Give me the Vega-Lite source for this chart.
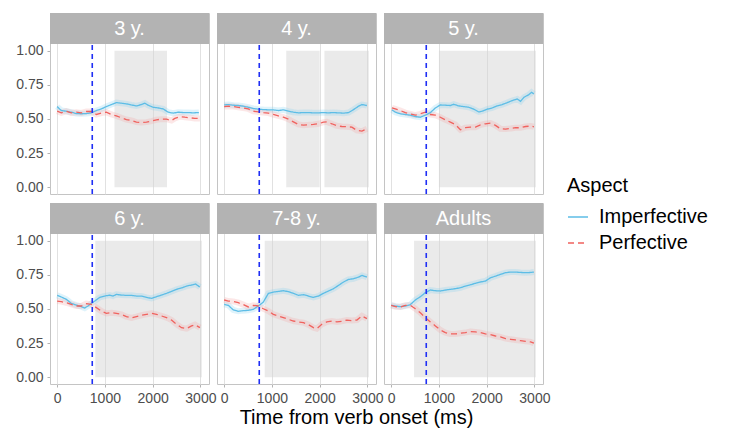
{
  "$schema": "https://vega.github.io/schema/vega-lite/v6.json",
  "padding": {"left": 5, "top": 12, "right": 5, "bottom": 0},
  "background": "white",
  "bounds": "flush",
  "config": {
    "font": "Liberation Sans",
    "view": {"stroke": "#C4C4C4", "strokeWidth": 1},
    "header": {"labels": false, "title": null, "labelFontSize": 0, "labelPadding": 0},
    "headerFacet": {"labels": false, "title": null, "labelFontSize": 0, "labelPadding": 0},
    "axis": {"domain": false, "labelColor": "#4D4D4D", "labelFontSize": 14, "labelFont": "Liberation Sans", "tickColor": "#B3B3B3", "tickSize": 3, "labelPadding": 4},
    "legend": {"titleFontSize": 20, "titleFontWeight": "normal", "titleColor": "black", "labelFontSize": 20, "labelColor": "black", "titleFont": "Liberation Sans", "labelFont": "Liberation Sans", "symbolType": "stroke", "symbolSize": 400, "symbolStrokeWidth": 1.5, "rowPadding": 5, "titlePadding": 10, "labelOffset": 10}
  },
  "title": {"text": "Time from verb onset (ms)", "orient": "bottom", "anchor": "middle", "fontSize": 20, "fontWeight": "normal", "color": "black", "offset": 3, "font": "Liberation Sans"},
  "data": {"values": [
    {"g":"3 y.","k":"on","t":735},{"g":"4 y.","k":"on","t":735},{"g":"5 y.","k":"on","t":735},{"g":"6 y.","k":"on","t":735},{"g":"7-8 y.","k":"on","t":735},{"g":"Adults","k":"on","t":735},
    {"g":"3 y.","t":1200,"t2":2300},{"g":"4 y.","t":1300,"t2":2000},{"g":"4 y.","t":2100,"t2":3030},{"g":"5 y.","t":1000,"t2":3030},{"g":"6 y.","t":800,"t2":3030},{"g":"7-8 y.","t":850,"t2":3030},{"g":"Adults","t":480,"t2":3030},
    {"g":"3 y.","a":"Imperfective","t":0,"p":0.591},{"g":"3 y.","a":"Imperfective","t":87,"p":0.562},{"g":"3 y.","a":"Imperfective","t":192,"p":0.557},{"g":"3 y.","a":"Imperfective","t":296,"p":0.55},{"g":"3 y.","a":"Imperfective","t":401,"p":0.54},{"g":"3 y.","a":"Imperfective","t":506,"p":0.538},{"g":"3 y.","a":"Imperfective","t":611,"p":0.54},{"g":"3 y.","a":"Imperfective","t":716,"p":0.545},{"g":"3 y.","a":"Imperfective","t":821,"p":0.562},{"g":"3 y.","a":"Imperfective","t":926,"p":0.574},{"g":"3 y.","a":"Imperfective","t":1030,"p":0.591},{"g":"3 y.","a":"Imperfective","t":1135,"p":0.606},{"g":"3 y.","a":"Imperfective","t":1240,"p":0.62},{"g":"3 y.","a":"Imperfective","t":1345,"p":0.616},{"g":"3 y.","a":"Imperfective","t":1450,"p":0.611},{"g":"3 y.","a":"Imperfective","t":1555,"p":0.603},{"g":"3 y.","a":"Imperfective","t":1660,"p":0.596},{"g":"3 y.","a":"Imperfective","t":1765,"p":0.606},{"g":"3 y.","a":"Imperfective","t":1835,"p":0.616},{"g":"3 y.","a":"Imperfective","t":1905,"p":0.601},{"g":"3 y.","a":"Imperfective","t":2010,"p":0.586},{"g":"3 y.","a":"Imperfective","t":2115,"p":0.581},{"g":"3 y.","a":"Imperfective","t":2220,"p":0.574},{"g":"3 y.","a":"Imperfective","t":2325,"p":0.55},{"g":"3 y.","a":"Imperfective","t":2430,"p":0.543},{"g":"3 y.","a":"Imperfective","t":2535,"p":0.55},{"g":"3 y.","a":"Imperfective","t":2640,"p":0.547},{"g":"3 y.","a":"Imperfective","t":2745,"p":0.547},{"g":"3 y.","a":"Imperfective","t":2850,"p":0.545},{"g":"3 y.","a":"Imperfective","t":2968,"p":0.547},
    {"g":"3 y.","a":"Perfective","t":0,"p":0.557},{"g":"3 y.","a":"Perfective","t":87,"p":0.545},{"g":"3 y.","a":"Perfective","t":192,"p":0.557},{"g":"3 y.","a":"Perfective","t":296,"p":0.545},{"g":"3 y.","a":"Perfective","t":401,"p":0.55},{"g":"3 y.","a":"Perfective","t":506,"p":0.545},{"g":"3 y.","a":"Perfective","t":611,"p":0.555},{"g":"3 y.","a":"Perfective","t":716,"p":0.555},{"g":"3 y.","a":"Perfective","t":821,"p":0.533},{"g":"3 y.","a":"Perfective","t":926,"p":0.543},{"g":"3 y.","a":"Perfective","t":1030,"p":0.55},{"g":"3 y.","a":"Perfective","t":1135,"p":0.533},{"g":"3 y.","a":"Perfective","t":1240,"p":0.523},{"g":"3 y.","a":"Perfective","t":1345,"p":0.509},{"g":"3 y.","a":"Perfective","t":1450,"p":0.496},{"g":"3 y.","a":"Perfective","t":1555,"p":0.489},{"g":"3 y.","a":"Perfective","t":1660,"p":0.477},{"g":"3 y.","a":"Perfective","t":1765,"p":0.474},{"g":"3 y.","a":"Perfective","t":1870,"p":0.477},{"g":"3 y.","a":"Perfective","t":1975,"p":0.484},{"g":"3 y.","a":"Perfective","t":2080,"p":0.494},{"g":"3 y.","a":"Perfective","t":2185,"p":0.499},{"g":"3 y.","a":"Perfective","t":2290,"p":0.499},{"g":"3 y.","a":"Perfective","t":2395,"p":0.489},{"g":"3 y.","a":"Perfective","t":2465,"p":0.504},{"g":"3 y.","a":"Perfective","t":2570,"p":0.518},{"g":"3 y.","a":"Perfective","t":2675,"p":0.513},{"g":"3 y.","a":"Perfective","t":2780,"p":0.509},{"g":"3 y.","a":"Perfective","t":2885,"p":0.504},{"g":"3 y.","a":"Perfective","t":2990,"p":0.504},
    {"g":"4 y.","a":"Imperfective","t":0,"p":0.603},{"g":"4 y.","a":"Imperfective","t":87,"p":0.606},{"g":"4 y.","a":"Imperfective","t":192,"p":0.601},{"g":"4 y.","a":"Imperfective","t":296,"p":0.599},{"g":"4 y.","a":"Imperfective","t":401,"p":0.594},{"g":"4 y.","a":"Imperfective","t":506,"p":0.586},{"g":"4 y.","a":"Imperfective","t":611,"p":0.577},{"g":"4 y.","a":"Imperfective","t":716,"p":0.572},{"g":"4 y.","a":"Imperfective","t":821,"p":0.569},{"g":"4 y.","a":"Imperfective","t":926,"p":0.567},{"g":"4 y.","a":"Imperfective","t":1030,"p":0.567},{"g":"4 y.","a":"Imperfective","t":1135,"p":0.562},{"g":"4 y.","a":"Imperfective","t":1240,"p":0.567},{"g":"4 y.","a":"Imperfective","t":1345,"p":0.557},{"g":"4 y.","a":"Imperfective","t":1450,"p":0.55},{"g":"4 y.","a":"Imperfective","t":1555,"p":0.545},{"g":"4 y.","a":"Imperfective","t":1660,"p":0.547},{"g":"4 y.","a":"Imperfective","t":1765,"p":0.547},{"g":"4 y.","a":"Imperfective","t":1870,"p":0.545},{"g":"4 y.","a":"Imperfective","t":1975,"p":0.545},{"g":"4 y.","a":"Imperfective","t":2080,"p":0.547},{"g":"4 y.","a":"Imperfective","t":2185,"p":0.545},{"g":"4 y.","a":"Imperfective","t":2290,"p":0.547},{"g":"4 y.","a":"Imperfective","t":2395,"p":0.545},{"g":"4 y.","a":"Imperfective","t":2500,"p":0.543},{"g":"4 y.","a":"Imperfective","t":2605,"p":0.547},{"g":"4 y.","a":"Imperfective","t":2710,"p":0.569},{"g":"4 y.","a":"Imperfective","t":2815,"p":0.594},{"g":"4 y.","a":"Imperfective","t":2885,"p":0.606},{"g":"4 y.","a":"Imperfective","t":2990,"p":0.599},
    {"g":"4 y.","a":"Perfective","t":0,"p":0.591},{"g":"4 y.","a":"Perfective","t":87,"p":0.594},{"g":"4 y.","a":"Perfective","t":192,"p":0.591},{"g":"4 y.","a":"Perfective","t":296,"p":0.586},{"g":"4 y.","a":"Perfective","t":401,"p":0.581},{"g":"4 y.","a":"Perfective","t":506,"p":0.574},{"g":"4 y.","a":"Perfective","t":611,"p":0.557},{"g":"4 y.","a":"Perfective","t":716,"p":0.552},{"g":"4 y.","a":"Perfective","t":821,"p":0.547},{"g":"4 y.","a":"Perfective","t":926,"p":0.543},{"g":"4 y.","a":"Perfective","t":1030,"p":0.533},{"g":"4 y.","a":"Perfective","t":1135,"p":0.523},{"g":"4 y.","a":"Perfective","t":1240,"p":0.513},{"g":"4 y.","a":"Perfective","t":1345,"p":0.499},{"g":"4 y.","a":"Perfective","t":1450,"p":0.479},{"g":"4 y.","a":"Perfective","t":1555,"p":0.46},{"g":"4 y.","a":"Perfective","t":1660,"p":0.455},{"g":"4 y.","a":"Perfective","t":1765,"p":0.457},{"g":"4 y.","a":"Perfective","t":1870,"p":0.46},{"g":"4 y.","a":"Perfective","t":1975,"p":0.465},{"g":"4 y.","a":"Perfective","t":2080,"p":0.477},{"g":"4 y.","a":"Perfective","t":2150,"p":0.479},{"g":"4 y.","a":"Perfective","t":2255,"p":0.465},{"g":"4 y.","a":"Perfective","t":2360,"p":0.45},{"g":"4 y.","a":"Perfective","t":2465,"p":0.445},{"g":"4 y.","a":"Perfective","t":2570,"p":0.443},{"g":"4 y.","a":"Perfective","t":2675,"p":0.44},{"g":"4 y.","a":"Perfective","t":2780,"p":0.416},{"g":"4 y.","a":"Perfective","t":2885,"p":0.411},{"g":"4 y.","a":"Perfective","t":2990,"p":0.428},
    {"g":"5 y.","a":"Imperfective","t":17,"p":0.567},{"g":"5 y.","a":"Imperfective","t":87,"p":0.55},{"g":"5 y.","a":"Imperfective","t":192,"p":0.538},{"g":"5 y.","a":"Imperfective","t":296,"p":0.533},{"g":"5 y.","a":"Imperfective","t":401,"p":0.528},{"g":"5 y.","a":"Imperfective","t":506,"p":0.518},{"g":"5 y.","a":"Imperfective","t":611,"p":0.513},{"g":"5 y.","a":"Imperfective","t":716,"p":0.528},{"g":"5 y.","a":"Imperfective","t":821,"p":0.547},{"g":"5 y.","a":"Imperfective","t":926,"p":0.581},{"g":"5 y.","a":"Imperfective","t":1030,"p":0.603},{"g":"5 y.","a":"Imperfective","t":1135,"p":0.601},{"g":"5 y.","a":"Imperfective","t":1240,"p":0.599},{"g":"5 y.","a":"Imperfective","t":1310,"p":0.608},{"g":"5 y.","a":"Imperfective","t":1415,"p":0.596},{"g":"5 y.","a":"Imperfective","t":1520,"p":0.591},{"g":"5 y.","a":"Imperfective","t":1625,"p":0.586},{"g":"5 y.","a":"Imperfective","t":1730,"p":0.572},{"g":"5 y.","a":"Imperfective","t":1835,"p":0.552},{"g":"5 y.","a":"Imperfective","t":1905,"p":0.557},{"g":"5 y.","a":"Imperfective","t":2010,"p":0.572},{"g":"5 y.","a":"Imperfective","t":2115,"p":0.581},{"g":"5 y.","a":"Imperfective","t":2220,"p":0.596},{"g":"5 y.","a":"Imperfective","t":2325,"p":0.606},{"g":"5 y.","a":"Imperfective","t":2430,"p":0.62},{"g":"5 y.","a":"Imperfective","t":2535,"p":0.635},{"g":"5 y.","a":"Imperfective","t":2640,"p":0.647},{"g":"5 y.","a":"Imperfective","t":2710,"p":0.63},{"g":"5 y.","a":"Imperfective","t":2780,"p":0.659},{"g":"5 y.","a":"Imperfective","t":2885,"p":0.679},{"g":"5 y.","a":"Imperfective","t":2940,"p":0.696},{"g":"5 y.","a":"Imperfective","t":2990,"p":0.684},
    {"g":"5 y.","a":"Perfective","t":17,"p":0.581},{"g":"5 y.","a":"Perfective","t":87,"p":0.574},{"g":"5 y.","a":"Perfective","t":192,"p":0.562},{"g":"5 y.","a":"Perfective","t":296,"p":0.547},{"g":"5 y.","a":"Perfective","t":401,"p":0.538},{"g":"5 y.","a":"Perfective","t":506,"p":0.528},{"g":"5 y.","a":"Perfective","t":611,"p":0.538},{"g":"5 y.","a":"Perfective","t":716,"p":0.55},{"g":"5 y.","a":"Perfective","t":821,"p":0.533},{"g":"5 y.","a":"Perfective","t":926,"p":0.528},{"g":"5 y.","a":"Perfective","t":1030,"p":0.513},{"g":"5 y.","a":"Perfective","t":1135,"p":0.494},{"g":"5 y.","a":"Perfective","t":1240,"p":0.477},{"g":"5 y.","a":"Perfective","t":1345,"p":0.46},{"g":"5 y.","a":"Perfective","t":1450,"p":0.421},{"g":"5 y.","a":"Perfective","t":1555,"p":0.436},{"g":"5 y.","a":"Perfective","t":1660,"p":0.44},{"g":"5 y.","a":"Perfective","t":1765,"p":0.44},{"g":"5 y.","a":"Perfective","t":1870,"p":0.457},{"g":"5 y.","a":"Perfective","t":1975,"p":0.465},{"g":"5 y.","a":"Perfective","t":2080,"p":0.47},{"g":"5 y.","a":"Perfective","t":2185,"p":0.453},{"g":"5 y.","a":"Perfective","t":2290,"p":0.428},{"g":"5 y.","a":"Perfective","t":2395,"p":0.426},{"g":"5 y.","a":"Perfective","t":2500,"p":0.431},{"g":"5 y.","a":"Perfective","t":2605,"p":0.436},{"g":"5 y.","a":"Perfective","t":2710,"p":0.436},{"g":"5 y.","a":"Perfective","t":2815,"p":0.445},{"g":"5 y.","a":"Perfective","t":2920,"p":0.448},{"g":"5 y.","a":"Perfective","t":2990,"p":0.443},
    {"g":"6 y.","a":"Imperfective","t":0,"p":0.6},{"g":"6 y.","a":"Imperfective","t":87,"p":0.588},{"g":"6 y.","a":"Imperfective","t":192,"p":0.571},{"g":"6 y.","a":"Imperfective","t":296,"p":0.541},{"g":"6 y.","a":"Imperfective","t":401,"p":0.529},{"g":"6 y.","a":"Imperfective","t":506,"p":0.517},{"g":"6 y.","a":"Imperfective","t":576,"p":0.507},{"g":"6 y.","a":"Imperfective","t":646,"p":0.522},{"g":"6 y.","a":"Imperfective","t":716,"p":0.541},{"g":"6 y.","a":"Imperfective","t":786,"p":0.558},{"g":"6 y.","a":"Imperfective","t":891,"p":0.585},{"g":"6 y.","a":"Imperfective","t":996,"p":0.595},{"g":"6 y.","a":"Imperfective","t":1100,"p":0.602},{"g":"6 y.","a":"Imperfective","t":1170,"p":0.595},{"g":"6 y.","a":"Imperfective","t":1240,"p":0.607},{"g":"6 y.","a":"Imperfective","t":1345,"p":0.602},{"g":"6 y.","a":"Imperfective","t":1450,"p":0.6},{"g":"6 y.","a":"Imperfective","t":1555,"p":0.6},{"g":"6 y.","a":"Imperfective","t":1660,"p":0.595},{"g":"6 y.","a":"Imperfective","t":1765,"p":0.595},{"g":"6 y.","a":"Imperfective","t":1870,"p":0.585},{"g":"6 y.","a":"Imperfective","t":1975,"p":0.578},{"g":"6 y.","a":"Imperfective","t":2080,"p":0.59},{"g":"6 y.","a":"Imperfective","t":2185,"p":0.602},{"g":"6 y.","a":"Imperfective","t":2290,"p":0.615},{"g":"6 y.","a":"Imperfective","t":2395,"p":0.629},{"g":"6 y.","a":"Imperfective","t":2500,"p":0.644},{"g":"6 y.","a":"Imperfective","t":2605,"p":0.654},{"g":"6 y.","a":"Imperfective","t":2710,"p":0.668},{"g":"6 y.","a":"Imperfective","t":2815,"p":0.676},{"g":"6 y.","a":"Imperfective","t":2899,"p":0.683},{"g":"6 y.","a":"Imperfective","t":2990,"p":0.661},
    {"g":"6 y.","a":"Perfective","t":0,"p":0.558},{"g":"6 y.","a":"Perfective","t":87,"p":0.554},{"g":"6 y.","a":"Perfective","t":192,"p":0.546},{"g":"6 y.","a":"Perfective","t":296,"p":0.534},{"g":"6 y.","a":"Perfective","t":401,"p":0.522},{"g":"6 y.","a":"Perfective","t":506,"p":0.522},{"g":"6 y.","a":"Perfective","t":611,"p":0.539},{"g":"6 y.","a":"Perfective","t":716,"p":0.534},{"g":"6 y.","a":"Perfective","t":821,"p":0.51},{"g":"6 y.","a":"Perfective","t":926,"p":0.485},{"g":"6 y.","a":"Perfective","t":1030,"p":0.468},{"g":"6 y.","a":"Perfective","t":1135,"p":0.473},{"g":"6 y.","a":"Perfective","t":1240,"p":0.468},{"g":"6 y.","a":"Perfective","t":1345,"p":0.461},{"g":"6 y.","a":"Perfective","t":1450,"p":0.444},{"g":"6 y.","a":"Perfective","t":1555,"p":0.434},{"g":"6 y.","a":"Perfective","t":1660,"p":0.444},{"g":"6 y.","a":"Perfective","t":1765,"p":0.454},{"g":"6 y.","a":"Perfective","t":1870,"p":0.461},{"g":"6 y.","a":"Perfective","t":1975,"p":0.468},{"g":"6 y.","a":"Perfective","t":2080,"p":0.461},{"g":"6 y.","a":"Perfective","t":2185,"p":0.449},{"g":"6 y.","a":"Perfective","t":2290,"p":0.437},{"g":"6 y.","a":"Perfective","t":2395,"p":0.419},{"g":"6 y.","a":"Perfective","t":2500,"p":0.388},{"g":"6 y.","a":"Perfective","t":2605,"p":0.363},{"g":"6 y.","a":"Perfective","t":2710,"p":0.356},{"g":"6 y.","a":"Perfective","t":2815,"p":0.376},{"g":"6 y.","a":"Perfective","t":2885,"p":0.385},{"g":"6 y.","a":"Perfective","t":2990,"p":0.363},
    {"g":"7-8 y.","a":"Imperfective","t":0,"p":0.534},{"g":"7-8 y.","a":"Imperfective","t":87,"p":0.527},{"g":"7-8 y.","a":"Imperfective","t":192,"p":0.493},{"g":"7-8 y.","a":"Imperfective","t":296,"p":0.483},{"g":"7-8 y.","a":"Imperfective","t":401,"p":0.488},{"g":"7-8 y.","a":"Imperfective","t":506,"p":0.49},{"g":"7-8 y.","a":"Imperfective","t":611,"p":0.498},{"g":"7-8 y.","a":"Imperfective","t":716,"p":0.522},{"g":"7-8 y.","a":"Imperfective","t":821,"p":0.551},{"g":"7-8 y.","a":"Imperfective","t":926,"p":0.615},{"g":"7-8 y.","a":"Imperfective","t":1030,"p":0.624},{"g":"7-8 y.","a":"Imperfective","t":1135,"p":0.629},{"g":"7-8 y.","a":"Imperfective","t":1240,"p":0.634},{"g":"7-8 y.","a":"Imperfective","t":1345,"p":0.627},{"g":"7-8 y.","a":"Imperfective","t":1450,"p":0.615},{"g":"7-8 y.","a":"Imperfective","t":1555,"p":0.6},{"g":"7-8 y.","a":"Imperfective","t":1660,"p":0.605},{"g":"7-8 y.","a":"Imperfective","t":1765,"p":0.595},{"g":"7-8 y.","a":"Imperfective","t":1870,"p":0.585},{"g":"7-8 y.","a":"Imperfective","t":1975,"p":0.595},{"g":"7-8 y.","a":"Imperfective","t":2080,"p":0.615},{"g":"7-8 y.","a":"Imperfective","t":2185,"p":0.632},{"g":"7-8 y.","a":"Imperfective","t":2290,"p":0.649},{"g":"7-8 y.","a":"Imperfective","t":2395,"p":0.673},{"g":"7-8 y.","a":"Imperfective","t":2500,"p":0.698},{"g":"7-8 y.","a":"Imperfective","t":2605,"p":0.717},{"g":"7-8 y.","a":"Imperfective","t":2710,"p":0.722},{"g":"7-8 y.","a":"Imperfective","t":2815,"p":0.734},{"g":"7-8 y.","a":"Imperfective","t":2885,"p":0.746},{"g":"7-8 y.","a":"Imperfective","t":2990,"p":0.734},
    {"g":"7-8 y.","a":"Perfective","t":0,"p":0.566},{"g":"7-8 y.","a":"Perfective","t":87,"p":0.558},{"g":"7-8 y.","a":"Perfective","t":192,"p":0.556},{"g":"7-8 y.","a":"Perfective","t":296,"p":0.546},{"g":"7-8 y.","a":"Perfective","t":401,"p":0.532},{"g":"7-8 y.","a":"Perfective","t":506,"p":0.515},{"g":"7-8 y.","a":"Perfective","t":611,"p":0.527},{"g":"7-8 y.","a":"Perfective","t":716,"p":0.522},{"g":"7-8 y.","a":"Perfective","t":821,"p":0.502},{"g":"7-8 y.","a":"Perfective","t":926,"p":0.485},{"g":"7-8 y.","a":"Perfective","t":1030,"p":0.461},{"g":"7-8 y.","a":"Perfective","t":1135,"p":0.449},{"g":"7-8 y.","a":"Perfective","t":1240,"p":0.437},{"g":"7-8 y.","a":"Perfective","t":1345,"p":0.424},{"g":"7-8 y.","a":"Perfective","t":1450,"p":0.412},{"g":"7-8 y.","a":"Perfective","t":1555,"p":0.405},{"g":"7-8 y.","a":"Perfective","t":1660,"p":0.4},{"g":"7-8 y.","a":"Perfective","t":1765,"p":0.385},{"g":"7-8 y.","a":"Perfective","t":1870,"p":0.363},{"g":"7-8 y.","a":"Perfective","t":1940,"p":0.356},{"g":"7-8 y.","a":"Perfective","t":2045,"p":0.388},{"g":"7-8 y.","a":"Perfective","t":2150,"p":0.405},{"g":"7-8 y.","a":"Perfective","t":2255,"p":0.412},{"g":"7-8 y.","a":"Perfective","t":2360,"p":0.405},{"g":"7-8 y.","a":"Perfective","t":2465,"p":0.41},{"g":"7-8 y.","a":"Perfective","t":2570,"p":0.419},{"g":"7-8 y.","a":"Perfective","t":2675,"p":0.415},{"g":"7-8 y.","a":"Perfective","t":2780,"p":0.419},{"g":"7-8 y.","a":"Perfective","t":2885,"p":0.449},{"g":"7-8 y.","a":"Perfective","t":2990,"p":0.429},
    {"g":"Adults","a":"Imperfective","t":0,"p":0.527},{"g":"Adults","a":"Imperfective","t":87,"p":0.522},{"g":"Adults","a":"Imperfective","t":192,"p":0.517},{"g":"Adults","a":"Imperfective","t":296,"p":0.522},{"g":"Adults","a":"Imperfective","t":401,"p":0.532},{"g":"Adults","a":"Imperfective","t":506,"p":0.566},{"g":"Adults","a":"Imperfective","t":611,"p":0.59},{"g":"Adults","a":"Imperfective","t":716,"p":0.62},{"g":"Adults","a":"Imperfective","t":821,"p":0.639},{"g":"Adults","a":"Imperfective","t":926,"p":0.634},{"g":"Adults","a":"Imperfective","t":1030,"p":0.632},{"g":"Adults","a":"Imperfective","t":1135,"p":0.639},{"g":"Adults","a":"Imperfective","t":1240,"p":0.644},{"g":"Adults","a":"Imperfective","t":1345,"p":0.649},{"g":"Adults","a":"Imperfective","t":1450,"p":0.656},{"g":"Adults","a":"Imperfective","t":1555,"p":0.668},{"g":"Adults","a":"Imperfective","t":1660,"p":0.678},{"g":"Adults","a":"Imperfective","t":1765,"p":0.688},{"g":"Adults","a":"Imperfective","t":1870,"p":0.698},{"g":"Adults","a":"Imperfective","t":1975,"p":0.705},{"g":"Adults","a":"Imperfective","t":2080,"p":0.729},{"g":"Adults","a":"Imperfective","t":2185,"p":0.741},{"g":"Adults","a":"Imperfective","t":2290,"p":0.754},{"g":"Adults","a":"Imperfective","t":2395,"p":0.766},{"g":"Adults","a":"Imperfective","t":2500,"p":0.771},{"g":"Adults","a":"Imperfective","t":2605,"p":0.771},{"g":"Adults","a":"Imperfective","t":2710,"p":0.768},{"g":"Adults","a":"Imperfective","t":2815,"p":0.766},{"g":"Adults","a":"Imperfective","t":2920,"p":0.768},{"g":"Adults","a":"Imperfective","t":2990,"p":0.771},
    {"g":"Adults","a":"Perfective","t":0,"p":0.527},{"g":"Adults","a":"Perfective","t":87,"p":0.517},{"g":"Adults","a":"Perfective","t":192,"p":0.515},{"g":"Adults","a":"Perfective","t":296,"p":0.527},{"g":"Adults","a":"Perfective","t":401,"p":0.527},{"g":"Adults","a":"Perfective","t":506,"p":0.502},{"g":"Adults","a":"Perfective","t":611,"p":0.473},{"g":"Adults","a":"Perfective","t":716,"p":0.437},{"g":"Adults","a":"Perfective","t":821,"p":0.405},{"g":"Adults","a":"Perfective","t":926,"p":0.376},{"g":"Adults","a":"Perfective","t":1030,"p":0.346},{"g":"Adults","a":"Perfective","t":1135,"p":0.327},{"g":"Adults","a":"Perfective","t":1240,"p":0.317},{"g":"Adults","a":"Perfective","t":1345,"p":0.317},{"g":"Adults","a":"Perfective","t":1450,"p":0.322},{"g":"Adults","a":"Perfective","t":1555,"p":0.327},{"g":"Adults","a":"Perfective","t":1660,"p":0.334},{"g":"Adults","a":"Perfective","t":1765,"p":0.332},{"g":"Adults","a":"Perfective","t":1870,"p":0.327},{"g":"Adults","a":"Perfective","t":1975,"p":0.317},{"g":"Adults","a":"Perfective","t":2080,"p":0.312},{"g":"Adults","a":"Perfective","t":2185,"p":0.302},{"g":"Adults","a":"Perfective","t":2290,"p":0.295},{"g":"Adults","a":"Perfective","t":2395,"p":0.283},{"g":"Adults","a":"Perfective","t":2500,"p":0.278},{"g":"Adults","a":"Perfective","t":2605,"p":0.273},{"g":"Adults","a":"Perfective","t":2710,"p":0.268},{"g":"Adults","a":"Perfective","t":2815,"p":0.263},{"g":"Adults","a":"Perfective","t":2920,"p":0.259},{"g":"Adults","a":"Perfective","t":2990,"p":0.249}
  ]},
  "facet": {"field": "g", "type": "nominal", "sort": ["3 y.", "4 y.", "5 y.", "6 y.", "7-8 y.", "Adults"], "header": {"labels": false, "title": null, "labelFontSize": 0, "labelPadding": 0}, "title": null},
  "columns": 3,
  "spacing": {"row": 9, "column": 8},
  "spec": {
    "width": 159,
    "height": 181,
    "layer": [
      {
        "transform": [{"filter": "isValid(datum.t2)"}],
        "mark": {"type": "rect", "color": "#D6D6D6", "opacity": 0.5},
        "encoding": {
          "x": {"field": "t", "type": "quantitative", "title": null, "scale": {"domain": [-150, 3180], "nice": false, "zero": false}},
          "x2": {"field": "t2"},
          "y": {"datum": 0, "type": "quantitative", "title": null, "scale": {"domain": [-0.05, 1.2773], "nice": false, "zero": false}},
          "y2": {"datum": 1}
        }
      },
      {
        "transform": [{"filter": "datum.k === 'on'"}],
        "mark": {"type": "rect", "color": "#B3B3B3"},
        "encoding": {"x": {"datum": -150, "type": "quantitative", "title": null}, "x2": {"datum": 3180}, "y": {"datum": 1.05, "type": "quantitative", "title": null}, "y2": {"datum": 1.2773}}
      },
      {
        "transform": [{"filter": "datum.k === 'on'"}],
        "mark": {"type": "text", "color": "white", "fontSize": 20, "font": "Liberation Sans", "baseline": "middle", "align": "center"},
        "encoding": {"x": {"datum": 1515, "type": "quantitative", "title": null}, "y": {"datum": 1.1636, "type": "quantitative", "title": null}, "text": {"field": "g"}}
      },
      {
        "transform": [{"filter": "isValid(datum.p)"}],
        "mark": {"type": "line", "strokeWidth": 6, "opacity": 0.25, "strokeCap": "butt"},
        "encoding": {
          "x": {"field": "t", "type": "quantitative", "title": null},
          "y": {"field": "p", "type": "quantitative", "title": null},
          "detail": {"field": "a"},
          "stroke": {"condition": {"test": "datum.a === 'Imperfective'", "value": "#7FCFF0"}, "value": "#F4A0A0"}
        }
      },
      {
        "transform": [{"filter": "isValid(datum.p)"}],
        "mark": {"type": "line", "strokeWidth": 1.3},
        "encoding": {
          "x": {"field": "t", "type": "quantitative", "title": null,
            "axis": {"values": [0, 500, 1000, 1500, 2000, 2500, 3000], "labelExpr": "datum.value % 1000 === 0 ? format(datum.value, 'd') : ''", "labelFlush": false, "labelOverlap": false, "labelBound": false,
              "gridColor": {"condition": {"test": "datum.value % 1000 === 0", "value": "#DEDEDE"}, "value": "#EDEDED"},
              "gridWidth": {"condition": {"test": "datum.value % 1000 === 0", "value": 0.9}, "value": 0.6},
              "tickOpacity": {"condition": {"test": "datum.value % 1000 === 0", "value": 1}, "value": 0}}},
          "y": {"field": "p", "type": "quantitative", "title": null,
            "axis": {"values": [0, 0.125, 0.25, 0.375, 0.5, 0.625, 0.75, 0.875, 1], "labelExpr": "(datum.value * 4) % 1 === 0 ? format(datum.value, '.2f') : ''", "minExtent": 45, "maxExtent": 45, "labelOverlap": false, "labelBound": false, "labelFlush": false,
              "gridColor": {"condition": {"test": "(datum.value * 4) % 1 === 0", "value": "#DEDEDE"}, "value": "#EDEDED"},
              "gridWidth": {"condition": {"test": "(datum.value * 4) % 1 === 0", "value": 0.9}, "value": 0.6},
              "tickOpacity": {"condition": {"test": "(datum.value * 4) % 1 === 0", "value": 1}, "value": 0}}},
          "color": {"field": "a", "type": "nominal", "title": "Aspect", "scale": {"domain": ["Imperfective", "Perfective"], "range": ["#5DBDE6", "#F0625E"]}, "legend": {"orient": "none", "legendX": 517, "legendY": 163}},
          "strokeDash": {"field": "a", "type": "nominal", "title": "Aspect", "scale": {"domain": ["Imperfective", "Perfective"], "range": [[1, 0], [6, 4]]}, "legend": {"orient": "none", "legendX": 517, "legendY": 163}}
        }
      },
      {
        "transform": [{"filter": "datum.k === 'on'"}],
        "mark": {"type": "rule", "color": "#1F2FF5", "strokeWidth": 1.6, "strokeDash": [5, 4]},
        "encoding": {"x": {"field": "t", "type": "quantitative", "title": null}, "y": {"datum": -0.05, "type": "quantitative", "title": null}, "y2": {"datum": 1.05}}
      }
    ]
  }
}
